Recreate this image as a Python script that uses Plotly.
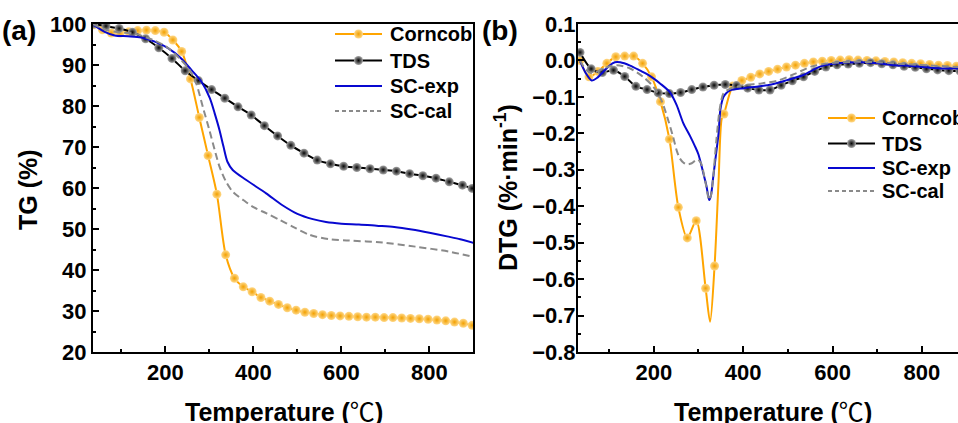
import plotly.graph_objects as go

W, H = 958, 423

# ---------------- Panel (a): TG ----------------
corncob_tg_T = [37, 57, 77, 97, 117, 137, 157, 177, 197, 217, 237, 257, 277, 297, 317, 337, 357, 377, 397, 417,
                437, 457, 477, 497, 517, 537, 557, 577, 597, 617, 637, 657, 677, 697, 717, 737, 757, 777, 797, 817,
                837, 857, 877, 897]
corncob_tg = [99.8, 98.6, 97.8, 97.8, 98.1, 98.4, 98.5, 98.4, 98.0, 96.1, 93.3, 86.6, 77.2, 67.9, 58.5, 43.7, 38.0,
              35.9, 34.7, 33.3, 32.4, 31.6, 30.8, 30.2, 29.7, 29.4, 29.1, 28.9, 28.8, 28.7, 28.6, 28.5, 28.5, 28.4,
              28.4, 28.3, 28.2, 28.1, 28.0, 27.8, 27.6, 27.3, 27.0, 26.5]

tds_tg_T = [37, 65, 95, 125, 155, 185, 215, 245, 275, 305, 335, 365, 395, 425, 455, 485, 515, 545, 575, 605, 635,
            665, 695, 725, 755, 785, 815, 845, 875, 897]
tds_tg = [100.0, 99.5, 98.9, 98.0, 96.4, 94.2, 91.6, 88.6, 86.2, 84.0, 81.9, 79.8, 77.8, 75.2, 72.7, 70.4, 68.5,
          66.8, 65.9, 65.3, 65.0, 64.7, 64.4, 64.1, 63.5, 63.0, 62.4, 61.5, 60.7, 59.9]

scexp_tg_T = [35, 48, 62, 85, 115, 145, 176, 206, 236, 259, 282, 301, 312, 323, 332, 341, 353, 383, 429, 466, 500,
              535, 565, 600, 640, 680, 720, 760, 800, 840, 870, 900]
scexp_tg = [100.0, 99.0, 98.1, 97.2, 97.0, 96.7, 95.7, 94.1, 91.6, 88.8, 85.9, 81.9, 78.2, 74.1, 70.1, 66.4, 64.4,
            62.0, 58.7, 55.8, 53.7, 52.4, 51.7, 51.3, 51.1, 50.8, 50.5, 49.9, 49.1, 48.2, 47.5, 46.6]

sccal_tg_T = [35, 62, 90, 127, 172, 202, 232, 255, 270, 285, 300, 312, 323, 338, 353, 383, 399, 430, 460, 489, 527,
              572, 617, 693, 768, 844, 900]
sccal_tg = [100.0, 98.7, 98.0, 97.7, 96.1, 94.5, 91.6, 88.8, 85.5, 79.8, 74.1, 69.3, 65.2, 61.5, 59.1, 56.6, 55.4,
            53.8, 52.2, 50.6, 48.6, 47.5, 47.2, 46.7, 45.7, 44.5, 43.2]

# ---------------- Panel (b): DTG ----------------
corncob_dtg_T = [35, 55, 75, 95, 115, 135, 155, 175, 195, 215, 235, 255, 275, 295, 316, 336, 357, 377, 397, 417,
                 437, 457, 477, 497, 517, 537, 557, 577, 597, 617, 637, 657, 677, 697, 717, 737, 757, 777, 797, 817,
                 837, 857, 877]
corncob_dtg = [0.000, -0.045, -0.030, -0.008, 0.010, 0.012, 0.012, -0.008, -0.045, -0.113, -0.216, -0.403, -0.487,
               -0.440, -0.625, -0.564, -0.147, -0.070, -0.055, -0.046, -0.037, -0.030, -0.024, -0.018, -0.013, -0.008,
               -0.004, -0.002, 0.000, 0.001, 0.002, 0.001, 0.000, -0.001, -0.003, -0.004, -0.006, -0.008, -0.009,
               -0.011, -0.013, -0.014, -0.016]
# points of the corncob DTG curve between markers (peak and steep flank)
corncob_dtg_peak_T = [326, 345, 352]
corncob_dtg_peak = [-0.717, -0.330, -0.160]

tds_dtg_T = [35, 60, 85, 110, 135, 160, 185, 210, 235, 260, 285, 310, 335, 360, 385, 410, 435, 460, 485, 510, 535,
             560, 585, 610, 635, 660, 685, 710, 735, 760, 785, 810, 835, 860, 885]
tds_dtg = [0.022, -0.023, -0.033, -0.027, -0.044, -0.071, -0.080, -0.089, -0.091, -0.088, -0.080, -0.073, -0.068,
           -0.066, -0.069, -0.076, -0.081, -0.081, -0.068, -0.056, -0.045, -0.030, -0.018, -0.012, -0.010, -0.008,
           -0.006, -0.009, -0.012, -0.016, -0.019, -0.023, -0.026, -0.028, -0.029]

scexp_dtg_T = [35, 48, 61, 74, 87, 100, 113, 125, 147, 170, 184, 200, 214, 236, 251, 266, 281, 292, 300, 311, 318,
               324, 328, 333, 340, 345, 349, 356, 362, 371, 401, 430, 463, 498, 535, 555, 572, 610, 664, 701, 739,
               776, 813, 850, 882]
scexp_dtg = [-0.002, -0.035, -0.055, -0.047, -0.031, -0.015, -0.005, -0.005, -0.014, -0.028, -0.037, -0.050, -0.063,
             -0.087, -0.122, -0.172, -0.207, -0.235, -0.258, -0.310, -0.345, -0.383, -0.370, -0.320, -0.250, -0.200,
             -0.135, -0.100, -0.090, -0.082, -0.076, -0.072, -0.066, -0.054, -0.040, -0.027, -0.017, -0.008, -0.005,
             -0.008, -0.013, -0.015, -0.019, -0.022, -0.022]

sccal_dtg_T = [35, 48, 61, 75, 87, 117, 147, 176, 199, 217, 232, 243, 251, 258, 266, 274, 285, 297, 305, 315, 324,
               328, 333, 340, 348, 356, 370, 400, 441, 478, 515, 552, 590, 640, 700, 760, 820, 882]
sccal_dtg = [0.000, -0.025, -0.035, -0.030, -0.022, -0.013, -0.022, -0.045, -0.072, -0.109, -0.163, -0.209, -0.246,
             -0.268, -0.280, -0.285, -0.282, -0.272, -0.280, -0.330, -0.383, -0.370, -0.320, -0.220, -0.130, -0.090,
             -0.078, -0.068, -0.063, -0.055, -0.037, -0.017, -0.008, -0.004, -0.005, -0.010, -0.014, -0.018]

series_names = ["Corncob", "TDS", "SC-exp", "SC-cal"]

# ---------------- styles ----------------
ORANGE = "#FFA500"
BLACK = "#000000"
BLUE = "#0808D0"
GREY = "#8A8A8A"
DASH = "7px,4px"
FONT = "Liberation Sans, Arial, sans-serif"
orange_marker = dict(size=9, color="#FFD98A", gradient=dict(type="radial", color="#F2A000"), line=dict(width=0))
black_marker = dict(size=9, color="#A8A8A8", gradient=dict(type="radial", color="#050505"), line=dict(width=0))

fig = go.Figure()


def add_marked(x, y, color, marker, xa, ya, lx=None, ly=None):
    lx = x if lx is None else lx
    ly = y if ly is None else ly
    fig.add_trace(go.Scatter(x=lx, y=ly, mode="lines", line=dict(color=color, width=2, shape="spline", smoothing=0.8),
                             showlegend=False, xaxis=xa, yaxis=ya, hoverinfo="skip"))
    fig.add_trace(go.Scatter(x=x, y=y, mode="markers", marker=marker, showlegend=False, xaxis=xa, yaxis=ya,
                             hoverinfo="skip"))


def add_line(x, y, color, dash, xa, ya):
    fig.add_trace(go.Scatter(x=x, y=y, mode="lines",
                             line=dict(color=color, width=2, dash=dash, shape="spline", smoothing=0.8),
                             showlegend=False, xaxis=xa, yaxis=ya, hoverinfo="skip"))


# panel a
add_marked(corncob_tg_T, corncob_tg, ORANGE, orange_marker, "x", "y")
add_marked(tds_tg_T, tds_tg, BLACK, black_marker, "x", "y")
add_line(scexp_tg_T, scexp_tg, BLUE, "solid", "x", "y")
add_line(sccal_tg_T, sccal_tg, GREY, DASH, "x", "y")

# panel b
cc_pts = sorted(list(zip(corncob_dtg_T, corncob_dtg)) + list(zip(corncob_dtg_peak_T, corncob_dtg_peak)))
add_marked(corncob_dtg_T, corncob_dtg, ORANGE, orange_marker, "x2", "y2",
           [p[0] for p in cc_pts], [p[1] for p in cc_pts])
add_marked(tds_dtg_T, tds_dtg, BLACK, black_marker, "x2", "y2")
add_line(scexp_dtg_T, scexp_dtg, BLUE, "solid", "x2", "y2")
add_line(sccal_dtg_T, sccal_dtg, GREY, DASH, "x2", "y2")

# ---------------- hand-built legends on a pixel overlay axis ----------------
legend_styles = [
    (ORANGE, "solid", orange_marker),
    (BLACK, "solid", black_marker),
    (BLUE, "solid", None),
    (GREY, "4px,3px", None),
]
legend_layouts = [
    dict(x0=335, x1=382, rows=[34, 60.5, 86, 111], tx=388),
    dict(x0=828, x1=875, rows=[118, 143.5, 168, 191], tx=880),
]
leg_font = dict(family=FONT, size=20, color="black", weight="bold")
for lay in legend_layouts:
    for name, (col, dash, mk), yy in zip(series_names, legend_styles, lay["rows"]):
        fig.add_trace(go.Scatter(x=[lay["x0"], lay["x1"]], y=[yy, yy], mode="lines",
                                 line=dict(color=col, width=2, dash=dash), xaxis="x3", yaxis="y3",
                                 showlegend=False, hoverinfo="skip", cliponaxis=False))
        if mk is not None:
            fig.add_trace(go.Scatter(x=[(lay["x0"] + lay["x1"]) / 2], y=[yy], mode="markers", marker=mk,
                                     xaxis="x3", yaxis="y3", showlegend=False, hoverinfo="skip", cliponaxis=False))
        fig.add_annotation(text="<b>" + name + "</b>", x=lay["tx"], y=yy, xref="x3", yref="y3", xanchor="left",
                           yanchor="middle", showarrow=False, font=leg_font)

tickfont = dict(family=FONT, size=22, color="black", weight="bold")
common_ax = dict(showline=True, linewidth=2, linecolor="black", ticks="inside", ticklen=6, tickwidth=2,
                 tickcolor="black", showgrid=False, zeroline=False, tickfont=tickfont, automargin=False,
                 tickprefix="<b>", ticksuffix="</b>")

ybot = 1 - 352 / H
ytop = 1 - 24 / H

fig.update_layout(
    width=W, height=H, template="none", showlegend=False,
    margin=dict(l=0, r=0, t=0, b=0),
    paper_bgcolor="white", plot_bgcolor="rgba(0,0,0,0)",
    xaxis=dict(domain=[93 / W, 473 / W], range=[35.5, 899], anchor="y", mirror=True, tick0=0, dtick=200,
               minor=dict(ticks="inside", dtick=100, ticklen=3, tickwidth=2, tickcolor="black"), **common_ax),
    yaxis=dict(domain=[ybot, ytop], range=[20, 100], anchor="x", mirror=True, dtick=10,
               minor=dict(ticks="inside", dtick=5, ticklen=3, tickwidth=2, tickcolor="black"), **common_ax),
    xaxis2=dict(domain=[578 / W, 1.0], range=[30.5, 880.6], anchor="y2", mirror=True, tick0=0, dtick=200,
                minor=dict(ticks="inside", dtick=100, ticklen=3, tickwidth=2, tickcolor="black"), **common_ax),
    yaxis2=dict(domain=[ybot, ytop], range=[-0.8, 0.1], anchor="x2", mirror=False, dtick=0.1, tick0=0,
                tickformat=".1f", ticklabelstandoff=-4,
                minor=dict(ticks="inside", dtick=0.05, ticklen=3, tickwidth=2, tickcolor="black"), **common_ax),
    xaxis3=dict(domain=[0, 1], range=[0, W], anchor="y3", visible=False, fixedrange=True),
    yaxis3=dict(domain=[0, 1], range=[H, 0], anchor="x3", visible=False, fixedrange=True),
)

ann_font = dict(family=FONT, size=25, color="black", weight="bold")
deg = "<span style=\"font-family:Noto Sans CJK SC;font-weight:normal\">℃</span>"
annotations = [
    dict(text="<b>(a)</b>", x=0 / W, y=1 - 31 / H, xanchor="left", yanchor="middle", font_size=28),
    dict(text="<b>(b)</b>", x=480 / W, y=1 - 31 / H, xanchor="left", yanchor="middle", font_size=28),
    dict(text="<b>TG (%)</b>", x=28 / W, y=1 - 190 / H, xanchor="center", yanchor="middle", textangle=-90),
    dict(text="<b>DTG (%·min<sup>-1</sup>)</b>", x=506 / W, y=1 - 188 / H, xanchor="center", yanchor="middle",
         textangle=-90),
    dict(text="<b>Temperature (</b>" + deg + "<b>)</b>", x=284 / W, y=1 - 410 / H, xanchor="center",
         yanchor="middle"),
    dict(text="<b>Temperature (</b>" + deg + "<b>)</b>", x=773 / W, y=1 - 410 / H, xanchor="center",
         yanchor="middle"),
]
for a in annotations:
    fs = a.pop("font_size", 25)
    f = dict(ann_font)
    f["size"] = fs
    fig.add_annotation(xref="paper", yref="paper", showarrow=False, font=f, **a)

fig.write_html("out.html")
